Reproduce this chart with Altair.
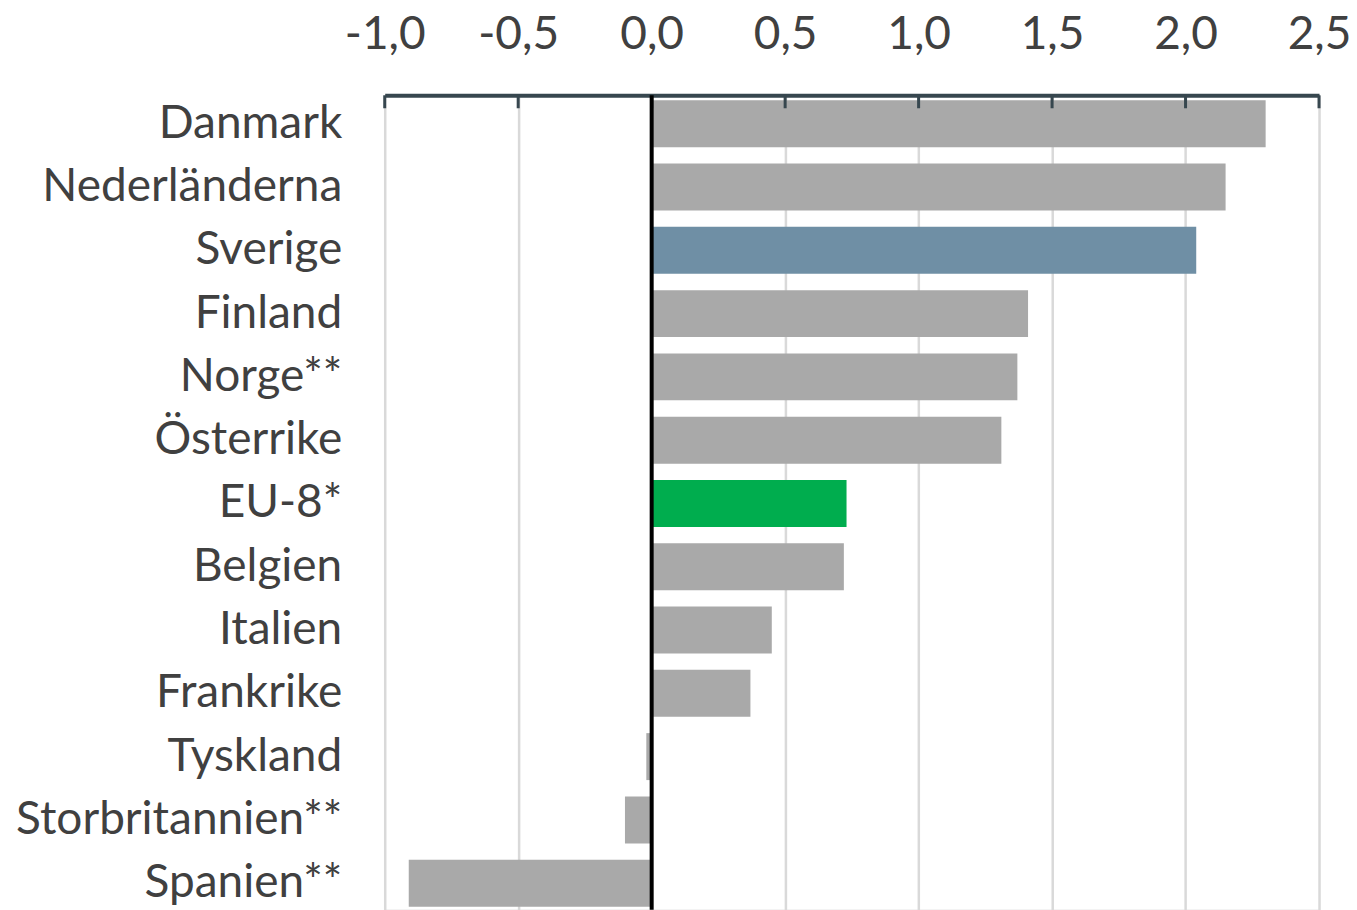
import altair as alt
import pandas as pd

countries = ["Danmark", "Nederländerna", "Sverige", "Finland", "Norge**", "Österrike",
             "EU-8*", "Belgien", "Italien", "Frankrike", "Tyskland", "Storbritannien**", "Spanien**"]
values = [2.30, 2.15, 2.04, 1.41, 1.37, 1.31, 0.73, 0.72, 0.45, 0.37, -0.02, -0.10, -0.91]
groups = ["Övriga", "Övriga", "Sverige", "Övriga", "Övriga", "Övriga",
          "EU-8", "Övriga", "Övriga", "Övriga", "Övriga", "Övriga", "Övriga"]
tick_values = [-1.0, -0.5, 0.0, 0.5, 1.0, 1.5, 2.0, 2.5]

group_domain = ["Övriga", "Sverige", "EU-8"]
group_colors = ["#a9a9a9", "#6f8fa5", "#00ad4e"]

df = pd.DataFrame({"land": countries, "varde": values, "grupp": groups})
ticks_df = pd.DataFrame({"t": tick_values})

FONT = "Lato"
TEXT = "#404040"
AXISC = "#37474f"

x_scale = alt.Scale(domain=[-1.0, 2.5], nice=False, zero=False)

bars = alt.Chart(df).mark_bar().encode(
    x=alt.X("varde:Q", scale=x_scale,
            axis=alt.Axis(orient="top", values=tick_values, title=None,
                          labelExpr="(datum.value < 0 ? '-' : '') + replace(format(abs(datum.value), '.1f'), '.', ',')",
                          labelFont=FONT, labelFontSize=46, labelColor=TEXT,
                          labelPadding=37, ticks=False, labelFlush=False,
                          labelOverlap=False,
                          domain=True, domainColor=AXISC, domainWidth=4,
                          grid=True, gridColor="#d9d9d9", gridWidth=2.5)),
    y=alt.Y("land:N", sort=countries, title=None,
            scale=alt.Scale(paddingInner=0.258, paddingOuter=0.079, range=[0, 817]),
            axis=alt.Axis(labelFont=FONT, labelFontSize=46, labelColor=TEXT,
                          labelPadding=43, ticks=False, domain=False, grid=False,
                          labelLimit=400)),
    color=alt.Color("grupp:N", scale=alt.Scale(domain=group_domain, range=group_colors), legend=None),
)

tick_marks = alt.Chart(ticks_df).mark_rule(color=AXISC, strokeWidth=3).encode(
    x=alt.X("t:Q", scale=x_scale),
    y=alt.value(0),
    y2=alt.value(13),
)

zero_line = alt.Chart(pd.DataFrame({"z": [0.0]})).mark_rule(color="black", strokeWidth=4).encode(
    x=alt.X("z:Q", scale=x_scale),
)

chart = alt.layer(bars, tick_marks, zero_line).properties(
    width=935,
    height=815,
    autosize=alt.AutoSizeParams(type="none"),
    padding={"left": 377, "top": 87, "right": 30, "bottom": 0},
).configure_view(stroke=None).configure(background="white")

chart.save("out.html", embed_options={"renderer": "svg", "actions": False})
